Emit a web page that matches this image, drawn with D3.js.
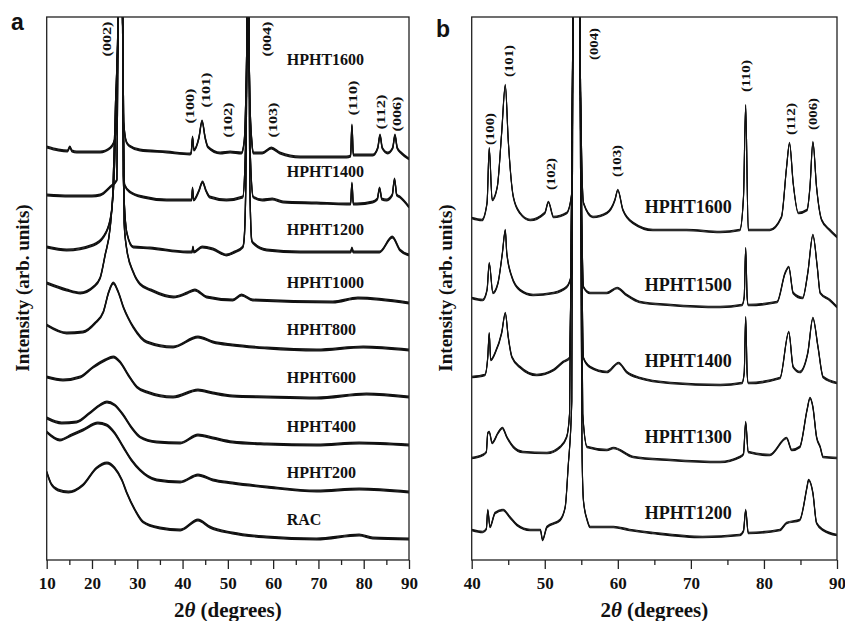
<!DOCTYPE html>
<html lang="en">
<head>
<meta charset="UTF-8">
<script src="https://d3js.org/d3.v7.min.js"></script>
<style>
  body { margin: 0; background: #fff; }
  svg text { font-family: "Liberation Serif", "Times New Roman", serif; font-weight: bold; fill: #111; }
  .panel-letter { font-family: "Liberation Sans", Arial, sans-serif !important; }
</style>
</head>
<body>
<div id="chart"></div>
<script>
// ---- panel a : 2theta (deg), intensity (arb. units, above each trace's own baseline)
const samplesA = ["RAC", "HPHT200", "HPHT400", "HPHT600", "HPHT800", "HPHT1000", "HPHT1200", "HPHT1400", "HPHT1600"];
const offsetsA = [10, 34, 58, 82, 105, 128.5, 152.5, 176.5, 201];
const labelLevelA = [20, 43.5, 66.5, 91, 115, 138.5, 165, 194, 250];

const rac = [[10,34],[11,28],[12.5,25],[14.8,24],[18,27.5],[21,36],[23.3,38.5],[25,36],[26.6,30],[27.7,23.5],[29.5,15],[31.3,9],[35,6],[39.5,5],[43.4,10],[46,6.5],[51,3.5],[58.5,1.5],[69.6,0.5],[79,2.5],[82,1],[90,0.5]];
const hpht200 = [[10,30],[12.9,26],[15.5,28.5],[18,31],[21.3,34.5],[23.2,33.5],[25,29.5],[26.9,22.5],[28.7,16],[30.6,11],[34.3,6],[39.5,5],[43.4,8.5],[46.7,6],[51,4.5],[58.6,2.5],[69.6,0.5],[79,1.5],[90,0]];
const hpht400 = [[10,13],[13.3,10.5],[16.6,11],[19.5,15.5],[21.8,19.5],[23.3,21],[25,19.5],[26.9,14.5],[28.8,8],[30.6,3.5],[34.3,1],[39.5,0.5],[43.4,4.5],[46.7,3],[51,1],[58.6,0],[69.6,-0.5],[79,0.5],[90,-0.5]];
const hpht600 = [[10,9.5],[13.6,8],[17.4,9.5],[20.3,14.5],[22.9,18],[24.7,19.5],[26.2,17],[28,10.5],[29.9,4.5],[32.1,2],[37.9,-0.5],[43.4,3],[46.7,1.5],[51,0],[58.6,-0.5],[69.6,-1],[80.6,1],[90,-0.5]];
const hpht800 = [[10,12.5],[14.4,8.5],[18,9],[20.7,13.5],[22.5,19],[23.7,29],[24.7,33.5],[25.8,29],[27,21],[28,16],[29.1,11.5],[32.1,4],[37.9,1.5],[43.4,6.5],[46.7,4],[51,2.5],[58.6,1],[69.6,0],[79.9,1.5],[90,0]];
const hpht1000 = [[10,10],[14.4,6.5],[17.4,5],[20.3,8],[21.8,12.5],[22.9,24],[24,37.5],[24.6,55],[25.2,100],[25.75,143],[26.25,300],[26.75,143],[27.1,40],[27.7,26.5],[29.1,15.5],[30.6,9.5],[33,6.5],[38,3],[41,5],[42.7,6.5],[45.3,3],[51.1,1.5],[53,4],[55.5,1.5],[73.2,0.5],[78.7,2.5],[90,0]];
const hpht1200 = [[10,4],[14.4,2.5],[20.3,5],[22.5,9],[24,17.5],[24.8,35],[25.4,80],[25.75,119],[26.25,300],[26.75,119],[26.9,40],[27.7,11],[29.1,4],[32.8,3.5],[41,1.5],[42.1,1.5],[42.3,4],[42.5,1.5],[44.3,4],[46.7,3],[49.7,0],[51.5,1.5],[53.3,4],[53.6,8],[54,40],[54.25,119],[54.45,300],[54.65,119],[54.85,35],[55.3,7],[55.6,6],[58.6,2.5],[66,1.5],[77.1,1.5],[77.4,3.5],[77.7,1.5],[83.5,1.5],[86.3,9],[88,2.5],[90,0]];
const hpht1400 = [[10,6],[15,5.5],[20,5.5],[21.8,6],[24,10],[25.5,13.5],[25.75,95],[26.25,300],[26.75,95],[27.2,11],[28.4,7.5],[31.3,5],[36.5,3.5],[41.6,3.5],[42,3.5],[42.2,9.5],[42.45,3.5],[43.6,8],[44.4,12.5],[45.2,8],[46,5],[49.7,3.5],[53.3,5],[53.9,30],[54.25,95],[54.45,300],[54.65,95],[54.9,30],[55.6,5],[57.6,3.5],[59.8,4],[62.2,2.5],[69.6,2],[76.2,1.5],[77.1,1.5],[77.4,12],[77.7,1.5],[78.5,1.5],[82,2.5],[83,4],[83.5,9.5],[84,4],[85,3.5],[86.3,6],[86.8,14],[87.3,6],[88,5],[90,0]];
const hpht1600 = [[10,5.5],[12.6,4],[14.6,3.5],[15.1,5.5],[15.6,3.5],[16.6,3],[21.8,3],[24,5],[25,9],[25.5,20],[25.75,70.5],[26.25,300],[26.75,70.5],[27,18],[27.6,8],[28.3,6],[30.6,4],[36.5,3],[41.6,2],[41.9,2.5],[42.2,10.5],[42.5,4],[43.6,10],[44.3,18.5],[45,10],[45.6,5.5],[48.3,2.5],[50.5,3],[53,2.5],[53.6,8],[54.05,40],[54.25,70.5],[54.45,300],[54.65,70.5],[54.85,30],[55.3,8],[55.6,2.5],[57.6,2.5],[59.6,5],[61.5,2.5],[66,0.5],[76.2,0.5],[77.1,1],[77.4,16.5],[77.7,1.5],[82,1.5],[83.1,5],[83.6,11.5],[84.1,5],[85.3,2.5],[86.4,5],[86.9,11.5],[87.4,5],[88.3,2.5],[90,-0.5]];
const tracesA = [rac, hpht200, hpht400, hpht600, hpht800, hpht1000, hpht1200, hpht1400, hpht1600];

const hklA = ["(002)", "(100)", "(101)", "(102)", "(004)", "(103)", "(110)", "(112)", "(006)"];
const hklAngleA = [23.3, 41.6, 45.0, 50.0, 58.6, 60.0, 77.6, 83.8, 87.3];
const hklLevelA = [260.5, 227, 235, 220, 260.5, 220, 231, 224, 223];

// ---- panel b
const samplesB = ["HPHT1200", "HPHT1300", "HPHT1400", "HPHT1500", "HPHT1600"];
const offsetsB = [12.5, 51, 88.5, 126.5, 161.5];
const labelLevelB = [23.5, 61.5, 99.5, 137.5, 176.5];

const b1200 = [[40,2.5],[41.5,1.5],[42,3],[42.2,12.5],[42.5,4],[43.2,11],[44.3,12.5],[45.2,9],[46.2,5],[48,2.5],[49.4,2.5],[49.7,-2.5],[50.3,4],[52.1,7.5],[52.8,14],[53.2,34],[53.7,67],[53.85,259],[54.35,500],[54.8,259],[55.1,42],[55.3,17],[55.8,7.5],[56.2,4],[59.4,4],[61.6,2.5],[64.8,1],[71.6,-1],[76.7,0],[77.2,2],[77.5,12.5],[77.85,1],[82.2,2.5],[83.1,6],[84.9,7.5],[85.9,24],[86.1,27.5],[86.7,21],[87.2,6],[88.1,2.5],[90,0]];
const b1300 = [[40,0],[41.5,1.5],[42,3],[42.2,12.5],[42.4,13],[42.8,7.5],[43.6,12.5],[44.2,15],[44.8,10.5],[45.7,5.5],[47,3],[50.3,2.5],[52.1,5.5],[53,10.5],[53.4,22.5],[53.85,220.5],[54.35,450],[54.8,220.5],[55.2,22],[55.8,5.5],[58.5,4],[59.4,5],[62.1,0.5],[67.2,-1],[74,-2],[76.7,0.5],[77.2,2],[77.5,18],[77.85,3],[80.8,1.5],[83.1,10],[83.8,4],[84.9,5.5],[85.9,24],[86.3,30],[86.7,25.5],[87.2,10.5],[87.7,5.5],[88.1,0.5],[90,0]];
const b1400 = [[40,3],[41.8,4],[42.2,13],[42.4,25],[42.6,11.5],[43.2,15],[44.1,25],[44.6,35],[45,23],[45.5,13],[46.6,8],[48.9,4],[51.2,6.5],[52.5,10.5],[53.4,12.5],[53.85,183],[54.35,400],[54.8,183],[55.3,12.5],[56.2,8],[58.5,5.5],[60.1,10],[61.2,5.5],[63,2.5],[67.2,0],[74,-1],[77,0],[77.3,5],[77.5,33],[77.7,5],[77.85,0],[82.2,2.5],[83.4,25.5],[84,8],[84.9,5.5],[86,15],[86.7,32.5],[87.4,18],[88.1,3],[90,0]];
const b1500 = [[40,4.5],[41.5,3.5],[42.1,8.5],[42.4,22],[42.9,7],[43.6,12],[44.2,27],[44.6,38.5],[44.8,27],[45.5,15],[46.6,8.5],[48.4,6],[51.2,7],[53,10],[53.7,17],[53.85,145],[54.35,400],[54.8,145],[55.3,10],[56.2,7],[58.5,7],[59.9,9.5],[61.2,6],[63,2.5],[67.2,1],[74,0],[77,1],[77.3,5],[77.5,29.5],[77.7,5],[77.85,1],[81.8,2.5],[82.9,17],[83.4,20],[84,7],[85.3,4.5],[86,17],[86.7,36],[87.3,20],[87.7,7],[89,3.5],[90,0]];
const b1600 = [[40,9.5],[41.4,8.5],[42.1,17],[42.4,44.5],[42.8,18.5],[43.5,25],[44.1,52],[44.6,76],[45,48.5],[45.7,20],[46.6,12],[48,8.5],[50,12],[50.5,17.5],[51.2,10],[53,12],[53.7,22],[53.85,110],[54.35,400],[54.8,110],[55.3,17],[56.6,10],[58.5,12],[59.6,18.5],[60,23.5],[60.7,13.5],[62.1,7],[64.8,3.5],[69.4,3.5],[74,2.5],[76.7,3.5],[77.2,20],[77.5,66],[77.85,3.5],[80.8,3.5],[82.4,10],[83.1,35],[83.5,47],[84,27],[84.7,12],[85.9,13.5],[86.3,25],[86.7,47.5],[87.2,25],[87.9,8.5],[89,3.5],[90,0]];
const tracesB = [b1200, b1300, b1400, b1500, b1600];

const hklB = ["(100)", "(101)", "(102)", "(004)", "(103)", "(110)", "(112)", "(006)"];
const hklAngleB = [42.5, 45.1, 50.85, 56.7, 59.9, 77.5, 83.7, 86.7];
const hklLevelB = [215.5, 249.5, 193, 258, 199.5, 242, 220.5, 223];

// ---- layout
const W = 845, H = 621;
const plotTop = 17, plotBottom = 560;

const svg = d3.select("#chart").append("svg")
  .attr("width", W).attr("height", H)
  .style("display", "block");

function drawPanel(opt) {
  const x = d3.scaleLinear().domain(opt.xDomain).range([opt.left, opt.right]);
  const y = d3.scaleLinear().domain([0, 271.5]).range([plotBottom, plotTop]);
  const g = svg.append("g");

  g.append("clipPath").attr("id", "clip-" + opt.id)
    .append("rect")
    .attr("x", opt.left).attr("y", plotTop)
    .attr("width", opt.right - opt.left).attr("height", plotBottom - plotTop);

  const line = d3.line()
    .x(d => x(d[0]))
    .curve(d3.curveMonotoneX);

  // each scan is stroked a few times, shifted up/down a little, so flat parts
  // read thick (like the noisy data) while steep peak flanks stay thin
  const traces = g.append("g").attr("clip-path", "url(#clip-" + opt.id + ")");
  opt.traces.forEach((t, i) => {
    const d = line.y(p => y(p[1] + opt.offsets[i]))(t);
    opt.shifts.forEach(s => {
      traces.append("path")
        .attr("d", d)
        .attr("transform", `translate(0,${s})`)
        .attr("fill", "none")
        .attr("stroke", "#111")
        .attr("stroke-width", opt.lineWidth)
        .attr("stroke-linejoin", "round");
    });
  });

  // frame
  g.append("rect")
    .attr("x", opt.left).attr("y", plotTop)
    .attr("width", opt.right - opt.left).attr("height", plotBottom - plotTop)
    .attr("fill", "none").attr("stroke", "#222").attr("stroke-width", 1.3);

  // x axis : major + minor ticks
  const major = d3.range(opt.xDomain[0], opt.xDomain[1] + 1, 10);
  const minor = d3.range(opt.xDomain[0] + 5, opt.xDomain[1], 10);
  const ax = g.append("g").attr("transform", `translate(0,${plotBottom})`)
    .call(d3.axisBottom(x).tickValues(major).tickSize(9).tickPadding(8).tickFormat(d3.format("d")));
  ax.select(".domain").remove();
  ax.selectAll("line").attr("stroke", "#222").attr("stroke-width", 1.3);
  ax.selectAll("text").style("font-size", "17px").attr("fill", "#111");
  const axm = g.append("g").attr("transform", `translate(0,${plotBottom})`)
    .call(d3.axisBottom(x).tickValues(minor).tickSize(5).tickFormat(""));
  axm.select(".domain").remove();
  axm.selectAll("line").attr("stroke", "#222").attr("stroke-width", 1.3);

  // axis titles
  const xt = g.append("text")
    .attr("x", (opt.left + opt.right) / 2).attr("y", 617)
    .attr("text-anchor", "middle")
    .style("font-size", "21px");
  xt.append("tspan").text("2");
  xt.append("tspan").style("font-style", "italic").text("\u03b8");
  xt.append("tspan").text(" (degrees)");

  g.append("text")
    .attr("transform", `translate(${opt.yTitleX},288) rotate(-90)`)
    .attr("text-anchor", "middle")
    .attr("dy", "0.35em")
    .style("font-size", "19px")
    .text("Intensity (arb. units)");

  // sample names
  opt.samples.forEach((s, i) => {
    g.append("text")
      .attr("x", x(opt.labelAngle))
      .attr("y", y(opt.labelLevel[i]))
      .attr("dy", "0.33em")
      .style("font-size", opt.labelSize + "px")
      .text(s);
  });

  // reflection indices, rotated
  opt.hkl.forEach((h, i) => {
    g.append("text")
      .attr("transform", `translate(${x(opt.hklAngle[i])},${y(opt.hklLevel[i])}) rotate(-90)`)
      .attr("text-anchor", "middle")
      .attr("dy", "0.36em")
      .attr("textLength", opt.hklLength)
      .attr("lengthAdjust", "spacingAndGlyphs")
      .style("font-size", "12px")
      .text(h);
  });

  g.append("text")
    .attr("class", "panel-letter")
    .attr("x", opt.letterX).attr("y", opt.letterY)
    .style("font-size", "23px")
    .text(opt.letter);
}

drawPanel({
  id: "a", letter: "a", letterX: 11, letterY: 30,
  xDomain: [10, 90], left: 46.7, right: 409,
  traces: tracesA, offsets: offsetsA, lineWidth: 1.3, shifts: [-0.8, 0, 0.8],
  samples: samplesA, labelLevel: labelLevelA, labelAngle: 63.0, labelSize: 16,
  hkl: hklA, hklAngle: hklAngleA, hklLevel: hklLevelA, hklLength: 35,
  yTitleX: 22
});

drawPanel({
  id: "b", letter: "b", letterX: 436, letterY: 37,
  xDomain: [40, 90], left: 471.7, right: 837,
  traces: tracesB, offsets: offsetsB, lineWidth: 1.1, shifts: [-0.8, 0, 0.8],
  samples: samplesB, labelLevel: labelLevelB, labelAngle: 63.7, labelSize: 18,
  hkl: hklB, hklAngle: hklAngleB, hklLevel: hklLevelB, hklLength: 32,
  yTitleX: 445
});
</script>
</body>
</html>
